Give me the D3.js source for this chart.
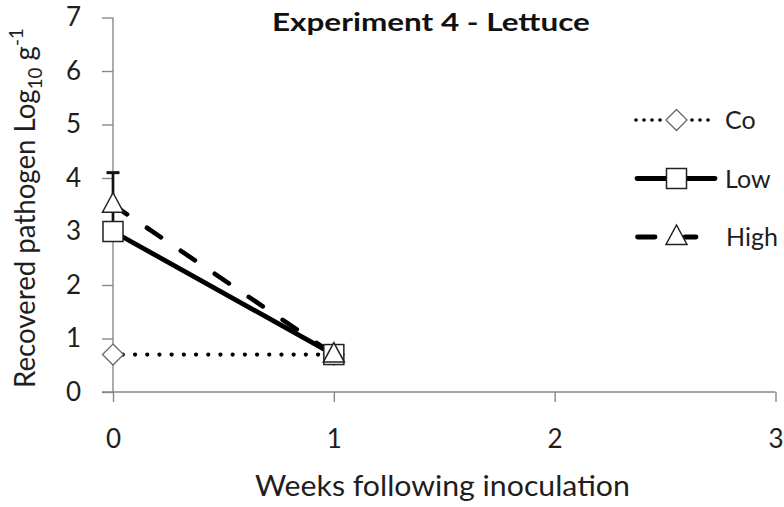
<!DOCTYPE html>
<html>
<head>
<meta charset="utf-8">
<script src="https://cdn.jsdelivr.net/npm/d3@7"></script>
<style>
  html, body { margin: 0; padding: 0; background: #fff; }
  svg { display: block; font-family: Lato, "Open Sans", sans-serif; }
</style>
</head>
<body>
<svg id="chart" width="784" height="507"></svg>
<script>
// Weeks sampled and recovered pathogen (Log10 g-1) per treatment
const weeks = [0, 1];
const coValues = [0.7, 0.7];
const lowValues = [3.0, 0.7];
const highValues = [3.5, 0.7];
const highErrors = [0.6, 0];
const seriesNames = ["Co", "Low", "High"];
const xTicks = [0, 1, 2, 3];
const yTicks = [0, 1, 2, 3, 4, 5, 6, 7];

const svg = d3.select("#chart");
const x = d3.scaleLinear().domain([0, 3]).range([113, 775.5]);
const y = d3.scaleLinear().domain([0, 7]).range([392, 17.5]);
const axisColor = "#888";
const textColor = "#1e1e1e";

// Stretch a text horizontally (in its own frame) to a given length
function fitText(sel, length) {
  const w = sel.node().getBBox().width;
  sel.attr("transform", `scale(${length / w},1)`);
}

// Axes
const yAxis = svg.append("g").attr("transform", `translate(${x(0)},0)`)
  .call(d3.axisLeft(y).tickValues(yTicks).tickSize(11).tickPadding(21).tickFormat(d3.format("d")));
const xAxis = svg.append("g").attr("transform", `translate(0,${y(0)})`)
  .call(d3.axisBottom(x).tickValues(xTicks).tickSize(10).tickPadding(30).tickFormat(d3.format("d")));
[yAxis, xAxis].forEach(g => {
  g.select(".domain").attr("stroke", axisColor).attr("stroke-width", 1.4);
  g.selectAll(".tick line").attr("stroke", axisColor).attr("stroke-width", 1.4);
  g.selectAll(".tick text").attr("fill", textColor).style("font-size", "26px")
    .style("font-family", "Lato, 'Open Sans', sans-serif");
});
yAxis.select(".domain").attr("d", `M0,${y(7)}V${y(0)}`);
xAxis.select(".domain").attr("d", `M${x(0) - 11},0H${x(3)}`);
xAxis.selectAll(".tick text").attr("dy", "0.62em");

// Title and axis labels
const title = svg.append("g").attr("transform", "translate(272,31)")
  .append("text").style("font-size", "25px").style("font-weight", "bold").attr("fill", "#111")
  .text("Experiment 4 - Lettuce");
fitText(title, 318);

const xl = svg.append("g").attr("transform", "translate(255,496)")
  .append("text").style("font-size", "28px").attr("fill", textColor)
  .text("Weeks following inoculation");
fitText(xl, 375);

const yl = svg.append("g").attr("transform", "translate(35,388) rotate(-90)")
  .append("text").style("font-size", "28px").attr("fill", textColor);
yl.append("tspan").text("Recovered pathogen Log");
yl.append("tspan").attr("dy", 7).style("font-size", "19px").text("10");
yl.append("tspan").attr("dy", -7).text(" g");
yl.append("tspan").attr("dy", -12).style("font-size", "19px").text("-1");
fitText(yl, 360);

const line = d3.line().x((d, i) => x(weeks[i])).y(d => y(d));
const styles = {
  Co: { dash: "0.1,12.1", offset: -9.8, width: 4.2, cap: "round" },
  Low: { dash: null, offset: 0, width: 4.8, cap: "butt" },
  High: { dash: "17,24", offset: 0, width: 4.6, cap: "round" }
};
const dataBy = { Co: coValues, Low: lowValues, High: highValues };

// Error bars for High
svg.append("g").selectAll("g")
  .data(highValues.map((v, i) => ({ v, e: highErrors[i], w: weeks[i] })).filter(d => d.e > 0))
  .join("g").each(function (d) {
    const g = d3.select(this);
    g.append("line").attr("x1", x(d.w)).attr("x2", x(d.w))
      .attr("y1", y(d.v - d.e)).attr("y2", y(d.v + d.e)).attr("stroke", "#111").attr("stroke-width", 2.7);
    g.append("line").attr("x1", x(d.w) - 6.5).attr("x2", x(d.w) + 6.5)
      .attr("y1", y(d.v + d.e)).attr("y2", y(d.v + d.e)).attr("stroke", "#111").attr("stroke-width", 3);
  });

// Lines
seriesNames.forEach(name => {
  const s = styles[name];
  svg.append("path").datum(dataBy[name]).attr("d", line).attr("fill", "none")
    .attr("stroke", "#000").attr("stroke-width", s.width)
    .attr("stroke-dasharray", s.dash).attr("stroke-dashoffset", s.offset)
    .attr("stroke-linecap", s.cap);
});

// Markers
function marker(g, name, cx, cy) {
  if (name === "Co") {
    g.append("path").attr("d", `M${cx},${cy - 10.5}L${cx + 10.5},${cy}L${cx},${cy + 10.5}L${cx - 10.5},${cy}Z`)
      .attr("fill", "#fff").attr("stroke", "#666").attr("stroke-width", 1.3);
  } else if (name === "Low") {
    g.append("rect").attr("x", cx - 10).attr("y", cy - 10).attr("width", 20).attr("height", 20)
      .attr("fill", "#fff").attr("stroke", "#222").attr("stroke-width", 1.5);
  } else {
    g.append("path").attr("d", `M${cx},${cy - 12}L${cx + 10.5},${cy + 7.5}L${cx - 10.5},${cy + 7.5}Z`)
      .attr("fill", "#fff").attr("stroke", "#222").attr("stroke-width", 1.5);
  }
}
seriesNames.forEach(name => {
  dataBy[name].forEach((v, i) => marker(svg, name, x(weeks[i]), y(v)));
});

// Legend
const legendY = [120, 178.5, 237];
const legendBase = [129, 188, 246];
seriesNames.forEach((name, i) => {
  const g = svg.append("g");
  const ly = legendY[i];
  const seg = (a, b, w, dash) => g.append("line").attr("x1", a).attr("x2", b)
    .attr("y1", ly).attr("y2", ly).attr("stroke", "#000").attr("stroke-width", w)
    .attr("stroke-dasharray", dash).attr("stroke-linecap", "round");
  if (name === "Co") {
    seg(636, 712, 3.6, "0.1,7.9");
  } else if (name === "Low") {
    seg(637, 715, 4.8, null);
  } else {
    seg(637.5, 655, 4.8, null);
    seg(685, 696, 4.8, null);
  }
  marker(g, name, 676.5, ly);
  g.append("text").attr("x", name === "Co" ? 725 : (name === "Low" ? 725 : 726)).attr("y", legendBase[i])
    .style("font-size", "25px").attr("fill", textColor).text(name);
});
</script>
</body>
</html>
